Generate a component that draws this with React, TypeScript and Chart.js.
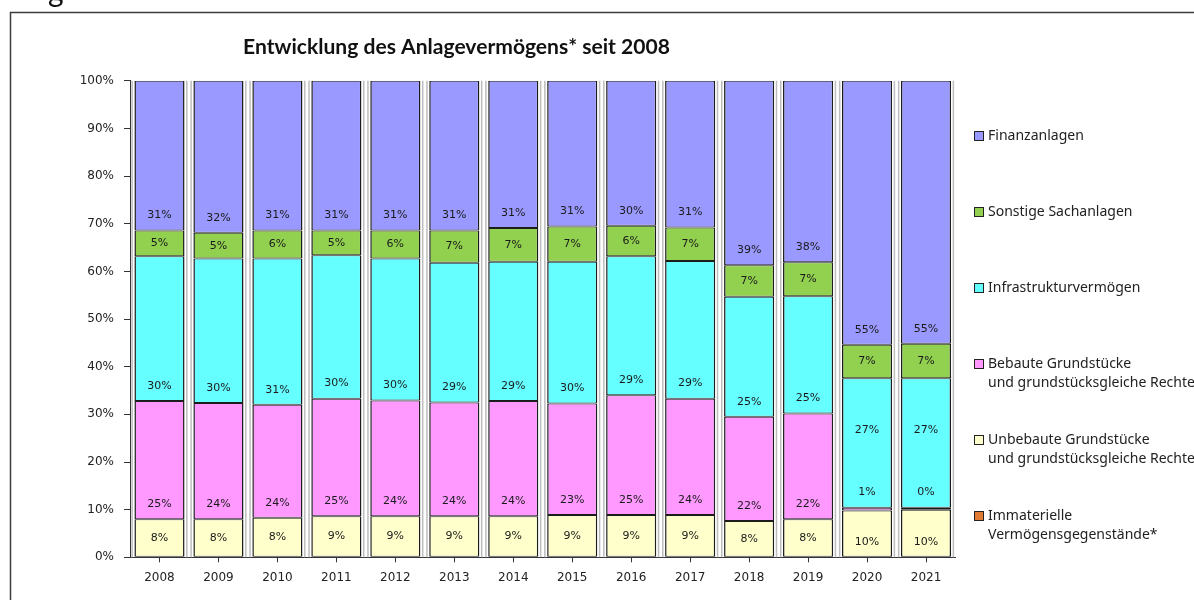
import React, { useEffect, useRef } from 'react';
import { Chart, registerables } from 'chart.js';

Chart.register(...registerables);

const years = ['2008', '2009', '2010', '2011', '2012', '2013', '2014', '2015', '2016', '2017', '2018', '2019', '2020', '2021'];
const immateriell = [0.1, 0.1, 0.1, 0.1, 0.1, 0.1, 0.1, 0.1, 0.1, 0.1, 0.1, 0.1, 0.1, 0.1];
const unbebaut = [7.9, 7.9, 8.2, 8.5, 8.5, 8.5, 8.5, 8.8, 8.8, 8.8, 7.5, 7.9, 9.7, 9.9];
const bebaut = [24.8, 24.4, 23.7, 24.7, 24.3, 23.9, 24.2, 23.4, 25.1, 24.4, 21.9, 22.2, 0.6, 0.4];
const infrastruktur = [30.4, 30.3, 30.7, 30.1, 29.8, 29.3, 29.2, 29.7, 29.2, 28.9, 25.2, 24.6, 27.2, 27.2];
const sonstige = [5.4, 5.4, 5.9, 5.2, 5.9, 6.8, 7.1, 7.4, 6.4, 7.0, 6.6, 7.1, 7.0, 7.2];
const finanz = [31.4, 31.9, 31.4, 31.4, 31.4, 31.4, 30.9, 30.6, 30.4, 30.8, 38.7, 38.1, 55.4, 55.2];

const seriesNames = [
  'Immaterielle\nVermögensgegenstände*',
  'Unbebaute Grundstücke\nund grundstücksgleiche Rechte',
  'Bebaute Grundstücke\nund grundstücksgleiche Rechte',
  'Infrastrukturvermögen',
  'Sonstige Sachanlagen',
  'Finanzanlagen',
];
const seriesColors = ['#E07B35', '#FFFFCC', '#FF99FF', '#66FFFF', '#92D050', '#9999FF'];
const yTicks = [0, 10, 20, 30, 40, 50, 60, 70, 80, 90, 100];
const titleText = 'Entwicklung des Anlagevermögens* seit 2008';

const decorPlugin = {
  id: 'decor',
  beforeDraw(chart: any) {
    const ctx = chart.ctx;
    ctx.save();
    ctx.fillStyle = '#ffffff';
    ctx.fillRect(0, 0, chart.width, chart.height);
    ctx.strokeStyle = '#3c3c3c';
    ctx.lineWidth = 1.5;
    ctx.beginPath();
    ctx.moveTo(10.5, chart.height);
    ctx.lineTo(10.5, 12.5);
    ctx.lineTo(chart.width, 12.5);
    ctx.stroke();
    ctx.fillStyle = '#111';
    ctx.font = '30px Lato';
    ctx.textBaseline = 'alphabetic';
    ctx.textAlign = 'left';
    ctx.fillText('g', 48, 2);
    let size = 20;
    ctx.font = `bold ${size}px Lato`;
    const w = ctx.measureText(titleText).width;
    size = (size * 427) / w;
    ctx.font = `bold ${size}px Lato`;
    ctx.fillStyle = '#111';
    ctx.textAlign = 'center';
    ctx.fillText(titleText, 456.5, 54);
    ctx.restore();
  },
  beforeDatasetsDraw(chart: any) {
    const ctx = chart.ctx;
    const yScale = chart.scales.y;
    const top = yScale.getPixelForValue(100);
    const bottom = yScale.getPixelForValue(0);
    const meta = chart.getDatasetMeta(0);
    ctx.save();
    ctx.strokeStyle = '#bdbdbd';
    ctx.lineWidth = 1.5;
    meta.data.forEach((el: any) => {
      const { x, width } = el.getProps(['x', 'width'], true);
      const l = x - width / 2 - 2.3;
      const r = x + width / 2 + 2.3;
      ctx.beginPath();
      ctx.moveTo(l, top);
      ctx.lineTo(l, bottom);
      ctx.moveTo(r, top);
      ctx.lineTo(r, bottom);
      ctx.stroke();
    });
    ctx.restore();
  },
  afterDatasetsDraw(chart: any) {
    const ctx = chart.ctx;
    ctx.save();
    ctx.font = '11px "DejaVu Sans"';
    ctx.fillStyle = '#1a1a1a';
    ctx.textAlign = 'center';
    ctx.textBaseline = 'middle';
    const n = chart.data.labels.length;
    for (let i = 0; i < n; i++) {
      let prevTiny = false;
      for (let d = 1; d < chart.data.datasets.length; d++) {
        const el = chart.getDatasetMeta(d).data[i];
        const { x, y, base } = el.getProps(['x', 'y', 'base'], true);
        const h = base - y;
        let ly;
        if (h < 10) ly = base - 18;
        else if (prevTiny) ly = base - 0.6 * h;
        else if (h < 44) ly = (y + base) / 2;
        else ly = base - 15;
        prevTiny = h < 10;
        const v = chart.data.datasets[d].data[i];
        ctx.fillText(Math.round(v) + '%', x, ly);
      }
    }
    ctx.restore();
  },
  afterDraw(chart: any) {
    const ctx = chart.ctx;
    ctx.save();
    let fs = 13;
    ctx.font = `${fs}px "Noto Sans"`;
    const mw = ctx.measureText('Finanzanlagen').width;
    fs = (fs * 96) / mw;
    ctx.font = `${fs}px "Noto Sans"`;
    ctx.textAlign = 'left';
    ctx.textBaseline = 'middle';
    const ds = chart.data.datasets.slice().reverse();
    ds.forEach((d: any, k: number) => {
      const yc = 136 + 76 * k;
      ctx.fillStyle = d.backgroundColor;
      ctx.fillRect(974, yc - 5, 10, 10);
      ctx.strokeStyle = '#222';
      ctx.lineWidth = 1;
      ctx.strokeRect(974.5, yc - 4.5, 9, 9);
      ctx.fillStyle = '#222';
      const lines = String(d.label).split('\n');
      lines.forEach((t: string, j: number) => {
        ctx.fillText(t, 988, yc + j * 19);
      });
    });
    ctx.restore();
  },
};

export default function App() {
  const ref = useRef<HTMLCanvasElement>(null);
  useEffect(() => {
    if (!ref.current) return;
    const values = [immateriell, unbebaut, bebaut, infrastruktur, sonstige, finanz];
    const chart = new Chart(ref.current, {
      type: 'bar',
      data: {
        labels: years,
        datasets: values.map((v, i) => ({
          label: seriesNames[i],
          data: v,
          backgroundColor: seriesColors[i],
          borderColor: '#1c1c1c',
          borderWidth: { left: 1.5, right: 1.5, top: 1, bottom: 1 },
          borderSkipped: false,
          barPercentage: 0.85,
          categoryPercentage: 1,
        })),
      },
      options: {
        animation: false,
        responsive: false,
        maintainAspectRatio: false,
        devicePixelRatio: 1,
        layout: { padding: { left: 10, top: 80.8, right: 238.5, bottom: 12.7 } },
        plugins: {
          legend: { display: false },
          title: { display: false },
          tooltip: { enabled: false },
        },
        scales: {
          x: {
            stacked: true,
            offset: true,
            grid: { offset: false, drawOnChartArea: false, drawTicks: true, tickLength: 5, color: '#333' },
            border: { color: '#333', width: 1 },
            ticks: { font: { family: 'DejaVu Sans', size: 12 }, color: '#222', padding: 8, maxRotation: 0 },
            afterFit: (s: any) => { s.height = 30; },
          },
          y: {
            stacked: true,
            min: 0,
            max: 100,
            afterBuildTicks: (s: any) => { s.ticks = yTicks.map((v) => ({ value: v })); },
            ticks: { callback: (v: any) => v + '%', font: { family: 'DejaVu Sans', size: 12 }, color: '#222', padding: 10 },
            grid: { drawOnChartArea: false, drawTicks: true, tickLength: 6, color: '#333' },
            border: { color: '#333', width: 1 },
            afterFit: (s: any) => { s.width = 120; },
          },
        },
      },
      plugins: [decorPlugin],
    });
    return () => chart.destroy();
  }, []);
  return (
    <div style={{ position: 'fixed', left: 0, top: 0, width: 1194, height: 600, background: '#fff' }}>
      <canvas ref={ref} width={1194} height={600} style={{ display: 'block' }} />
    </div>
  );
}
